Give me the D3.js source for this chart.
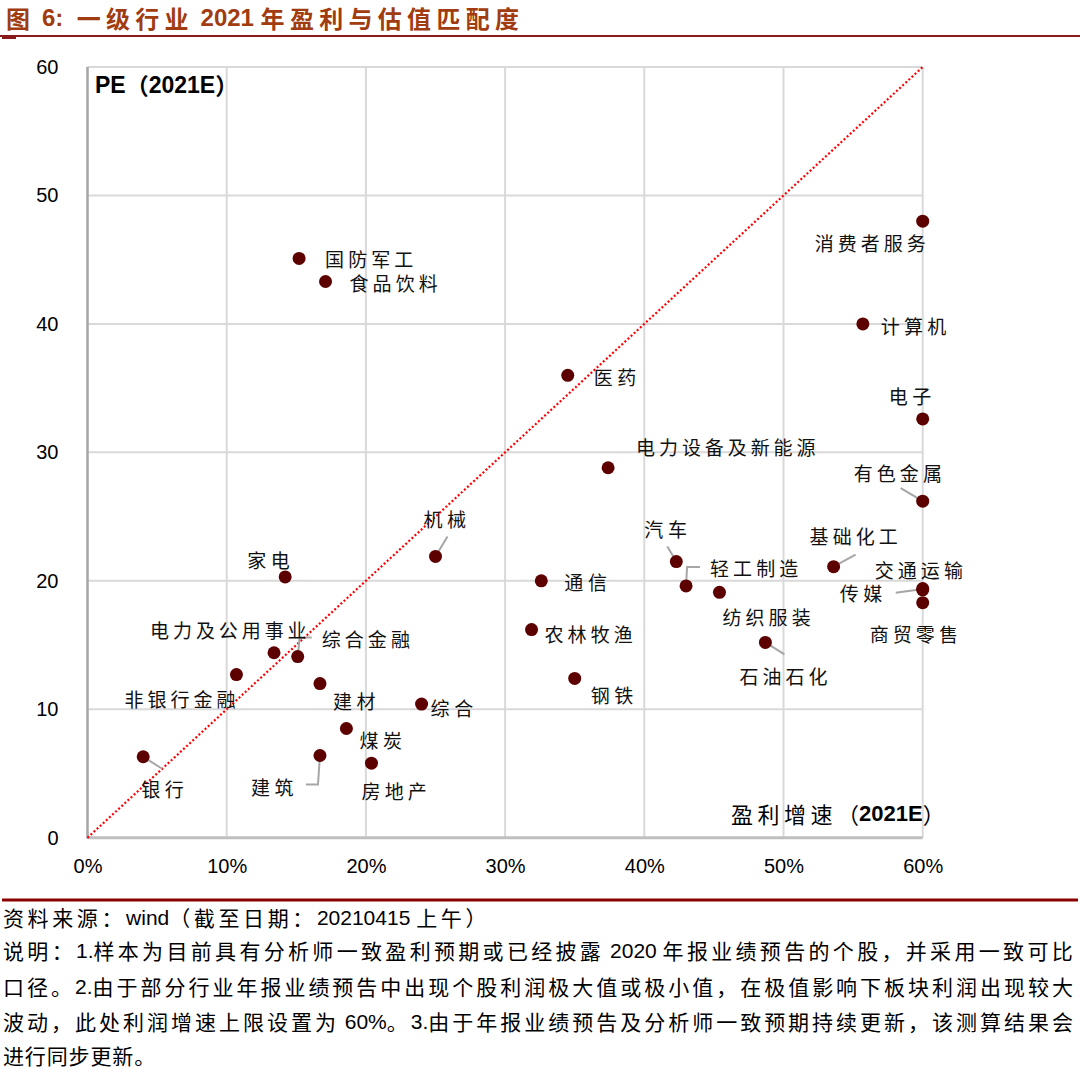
<!DOCTYPE html>
<html>
<head>
<meta charset="utf-8">
<script src="https://cdn.jsdelivr.net/npm/d3@7"></script>
<style>
  body { margin: 0; background: #fff; }
  svg { display: block; }
  text { white-space: pre; }
</style>
</head>
<body>
<svg id="chart" width="1080" height="1069"></svg>
<script>
// 一级行业：盈利增速(%) 与 PE(2021E)
var industries = ["国防军工", "食品饮料", "消费者服务", "计算机", "医药", "电子",
  "电力设备及新能源", "有色金属", "机械", "家电", "汽车", "基础化工", "通信",
  "轻工制造", "纺织服装", "交通运输", "传媒", "商贸零售", "农林牧渔", "石油石化",
  "电力及公用事业", "综合金融", "非银行金融", "建材", "钢铁", "综合", "煤炭",
  "建筑", "房地产", "银行"];
var growth = [15.2, 17.1, 60, 55.7, 34.5, 60, 37.4, 60, 25.0, 14.2, 42.3, 53.6, 32.6,
  43.0, 45.4, 60, 60, 60, 31.9, 48.7, 13.4, 15.1, 10.7, 16.7, 35.0, 24.0, 18.6,
  16.7, 20.4, 4.0];
var pe = [45.1, 43.3, 48.0, 40.0, 36.0, 32.6, 28.8, 26.2, 21.9, 20.3, 21.5, 21.1, 20.0,
  19.6, 19.1, 19.4, 19.3, 18.3, 16.2, 15.2, 14.4, 14.1, 12.7, 12.0, 12.4, 10.4, 8.5,
  6.4, 5.8, 6.3];
var xTicks = [0, 10, 20, 30, 40, 50, 60];
var yTicks = [0, 10, 20, 30, 40, 50, 60];

// label placement (pixel offset of label's left/centre from its dot) and leader lines
var labelOffset = {
  "国防军工": [26, 0], "食品饮料": [24, 1], "消费者服务": [-108, 21], "计算机": [18, 2],
  "医药": [26, 1], "电子": [-34, -23], "电力设备及新能源": [28, -21], "有色金属": [-69, -29],
  "机械": [-12, -38], "家电": [-38, -17], "汽车": [-32, -33], "基础化工": [-24, -31],
  "通信": [23, 1], "轻工制造": [24, -18], "纺织服装": [3, 24], "交通运输": [-48, -19],
  "传媒": [-83, 3], "商贸零售": [-53, 31], "农林牧渔": [13, 4], "石油石化": [-26, 33],
  "电力及公用事业": [-124, -23], "综合金融": [24, -18], "非银行金融": [-112, 24],
  "建材": [13, 17], "钢铁": [16, 16], "综合": [9, 3], "煤炭": [13, 11],
  "建筑": [-69, 31], "房地产": [-10, 27], "银行": [-2, 32]
};
var leaders = {
  "有色金属": [[-22, -13], [0, 0]],
  "机械": [[12, -20], [0, 0]],
  "汽车": [[-9, -15], [0, 0]],
  "基础化工": [[22, -12], [0, 0]],
  "轻工制造": [[0, 0], [1, -19], [14, -19]],
  "传媒": [[-27, 3], [-5, 0]],
  "石油石化": [[0, 0], [19, 12]],
  "综合金融": [[0, 0], [2, -19], [14, -19]],
  "建筑": [[0, 0], [-2, 29], [-14, 29]],
  "银行": [[0, 0], [19, 12]]
};

var notes = [
  "资料来源：wind（截至日期：20210415 上午）",
  "说明：1.样本为目前具有分析师一致盈利预期或已经披露 2020 年报业绩预告的个股，并采用一致可比",
  "口径。2.由于部分行业年报业绩预告中出现个股利润极大值或极小值，在极值影响下板块利润出现较大",
  "波动，此处利润增速上限设置为 60%。3.由于年报业绩预告及分析师一致预期持续更新，该测算结果会",
  "进行同步更新。"
];

var svg = d3.select("#chart");
var cjk = "'Noto Sans CJK SC', sans-serif";
var latin = "'Liberation Sans', Arial, 'Noto Sans CJK SC', sans-serif";
var cjkRe = /[\u3000-\u303f\u4e00-\u9fff\uff00-\uffef]/;
var runRe = /[\u3000-\u303f\u4e00-\u9fff\uff00-\uffef]+|[^\u3000-\u303f\u4e00-\u9fff\uff00-\uffef]+/g;

// mixed text: Chinese runs in CJK font, the rest in Arial-like font;
// only the Chinese runs get spread so the line reaches `width`
function mixedText(parent, str, px, py, size, width) {
  var t = parent.append("text").attr("x", px).attr("y", py)
    .attr("dominant-baseline", "central").style("font-size", size + "px");
  var nC = 0;
  str.match(runRe).forEach(function (r) {
    var isC = cjkRe.test(r);
    if (isC) nC += r.length;
    t.append("tspan").attr("class", isC ? "c" : "l")
      .style("font-family", isC ? cjk : latin).text(r);
  });
  if (width) {
    var w = t.node().getComputedTextLength();
    t.selectAll("tspan.c").style("letter-spacing", ((width - w) / nC) + "px");
  }
  return t;
}

var x = d3.scaleLinear().domain([0, 60]).range([87.5, 922.7]);
var y = d3.scaleLinear().domain([0, 60]).range([837.7, 67]);

/******** title ********/
mixedText(svg, "图 6:  一级行业 2021 年盈利与估值匹配度", 6, 17, 24, 517)
  .style("font-weight", "bold").style("fill", "#a03c10");

svg.append("line").attr("x1", 0).attr("x2", 1080).attr("y1", 36).attr("y2", 36)
  .style("stroke", "#8b1a1a").style("stroke-width", 2);
svg.append("rect").attr("x", 2).attr("y", 36).attr("width", 14).attr("height", 3)
  .style("fill", "#8b1a1a");

/******** grid ********/
var g = svg.append("g");
g.selectAll(".hgrid").data(yTicks.slice(1)).enter().append("line")
  .attr("class", "hgrid")
  .attr("x1", x(0)).attr("x2", x(60))
  .attr("y1", d => y(d)).attr("y2", d => y(d))
  .style("stroke", "#d9d9d9").style("stroke-width", 2);
g.selectAll(".vgrid").data(xTicks.slice(1)).enter().append("line")
  .attr("class", "vgrid")
  .attr("x1", d => x(d)).attr("x2", d => x(d))
  .attr("y1", y(0)).attr("y2", y(60))
  .style("stroke", "#d9d9d9").style("stroke-width", 2);

// axis lines
g.append("line").attr("x1", x(0)).attr("x2", x(60)).attr("y1", y(0)).attr("y2", y(0))
  .style("stroke", "#bfbfbf").style("stroke-width", 3);
g.append("line").attr("x1", x(0)).attr("x2", x(0)).attr("y1", y(60)).attr("y2", y(0) + 1)
  .style("stroke", "#a6a6a6").style("stroke-width", 2.5);

// tick labels
var yAxis = svg.append("g").attr("transform", "translate(" + x(0) + ",0)")
  .call(d3.axisLeft(y).tickValues(yTicks).tickSize(0).tickPadding(29));
var xAxis = svg.append("g").attr("transform", "translate(0," + y(0) + ")")
  .call(d3.axisBottom(x).tickValues(xTicks).tickSize(0).tickPadding(21)
    .tickFormat(d => d + "%"));
[xAxis, yAxis].forEach(function (a) {
  a.select(".domain").remove();
  a.selectAll("text").style("font-family", latin).style("font-size", "20px")
    .style("fill", "#000");
});

/******** diagonal 45° line ********/
g.append("line")
  .attr("x1", x(0)).attr("y1", y(0)).attr("x2", x(60)).attr("y2", y(60))
  .style("stroke", "#ff0000").style("stroke-width", 2.2)
  .style("stroke-dasharray", "2,2.2");

/******** axis titles ********/
mixedText(svg, "PE（2021E）", 95, 85, 23, null).style("font-weight", "bold");

var gTitle = svg.append("text").attr("x", 731).attr("y", 813)
  .attr("dominant-baseline", "central").style("font-size", "22px")
  .style("font-family", cjk);
gTitle.append("tspan").style("letter-spacing", "4.5px").text("盈利增速");
gTitle.append("tspan").text("（");
gTitle.append("tspan").style("font-family", latin).style("font-weight", "bold").text("2021E");
gTitle.append("tspan").text("）");

/******** points ********/
var pts = industries.map(function (name, i) {
  return { name: name, gx: growth[i], pe: pe[i] };
});

var line = d3.line();
g.selectAll(".leader").data(pts.filter(d => leaders[d.name])).enter().append("path")
  .attr("class", "leader")
  .attr("d", d => line(leaders[d.name].map(p => [x(d.gx) + p[0], y(d.pe) + p[1]])))
  .style("fill", "none").style("stroke", "#a6a6a6").style("stroke-width", 2);

g.selectAll(".dot").data(pts).enter().append("circle")
  .attr("class", "dot")
  .attr("cx", d => x(d.gx)).attr("cy", d => y(d.pe)).attr("r", 6.5)
  .style("fill", "#5c0000");

g.selectAll(".lbl").data(pts).enter().append("text")
  .attr("class", "lbl")
  .attr("x", d => x(d.gx) + labelOffset[d.name][0])
  .attr("y", d => y(d.pe) + labelOffset[d.name][1])
  .attr("dominant-baseline", "central")
  .attr("textLength", d => d.name.length * 22.8 - 3)
  .attr("lengthAdjust", "spacing")
  .style("font-family", cjk).style("font-size", "19px").style("fill", "#111")
  .text(d => d.name);

/******** footer ********/
svg.append("line").attr("x1", 2).attr("x2", 1078).attr("y1", 900).attr("y2", 900)
  .style("stroke", "#8b0000").style("stroke-width", 3);

var noteWidth = [487, 1073, 1073, 1073, 153];
var noteY = [917, 950, 986, 1021, 1055];
notes.forEach(function (s, i) {
  mixedText(svg, s, 3, noteY[i], 21, noteWidth[i]).style("fill", "#000");
});
</script>
</body>
</html>
